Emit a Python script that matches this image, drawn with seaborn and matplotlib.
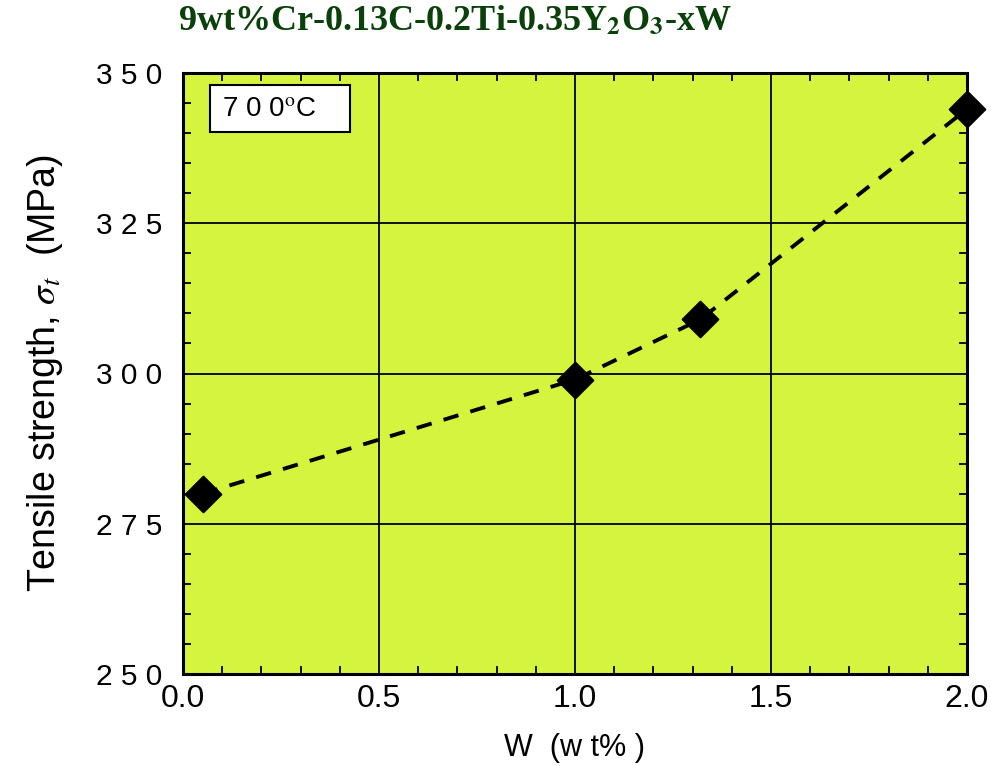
import matplotlib
matplotlib.use("Agg")
import matplotlib.pyplot as plt
import matplotlib.patches as mpatches
import seaborn as sns
import pandas as pd
from matplotlib.ticker import MultipleLocator

# data
w_content = [0.05, 1.0, 1.32, 2.0]
tensile = [280, 299, 309, 344]
x_ticks = [0.0, 0.5, 1.0, 1.5, 2.0]
x_tick_labels = ["0.0", "0.5", "1.0", "1.5", "2.0"]
y_ticks = [250, 275, 300, 325, 350]
y_tick_labels = ["2 5 0", "2 7 5", "3 0 0", "3 2 5", "3 5 0"]
title = r"9wt%Cr-0.13C-0.2Ti-0.35Y$_\mathbf{2}$O$_\mathbf{3}$-xW"
temp_label = "7 0 0$^{\\mathrm{o}}$C"

df = pd.DataFrame({"W": w_content, "TS": tensile})

sns.set_style("ticks")
plt.rcParams["font.family"] = ["Liberation Sans", "DejaVu Sans"]
plt.rcParams["mathtext.fontset"] = "stix"
plt.rcParams["text.color"] = "black"
plt.rcParams["axes.labelcolor"] = "black"
plt.rcParams["xtick.color"] = "black"
plt.rcParams["ytick.color"] = "black"

fig = plt.figure(figsize=(9.91, 7.66), dpi=100)
ax = fig.add_axes([183 / 991, 1 - 674 / 766, (967 - 183) / 991, (674 - 73) / 766])
bg = "#d4f43e"
ax.set_facecolor(bg)

sns.lineplot(data=df, x="W", y="TS", ax=ax, color="black", linewidth=2.8,
             linestyle=(0, (4, 3.2)), zorder=3)
sns.scatterplot(data=df, x="W", y="TS", ax=ax, marker="D", s=330, color="black",
                edgecolor="black", zorder=4, clip_on=False)

ax.set_xlim(0, 2.0)
ax.set_ylim(250, 350)
ax.set_xticks(x_ticks)
ax.set_xticklabels(x_tick_labels)
ax.set_yticks(y_ticks)
ax.set_yticklabels(y_tick_labels)
ax.xaxis.set_minor_locator(MultipleLocator(0.1))
ax.yaxis.set_minor_locator(MultipleLocator(5))
ax.grid(True, which="major", color="black", linewidth=1.3, zorder=1)
ax.set_axisbelow(True)
for s in ax.spines.values():
    s.set_linewidth(2.2)
    s.set_color("black")
    s.set_visible(True)
ax.tick_params(which="both", direction="in", top=True, right=True, color="black")
ax.tick_params(which="major", length=0, width=1.3, labelsize=21.5, labelcolor="black")
ax.tick_params(axis="x", which="major", labelsize=23)
ax.tick_params(axis="y", which="major", pad=15)
ax.tick_params(axis="x", which="major", pad=7)
ax.tick_params(which="minor", length=6, width=1.3)

ax.set_xlabel("W  (w t% )", fontsize=22, labelpad=14, color="black")
ax.set_ylabel("Tensile strength, $\\sigma_{\\mathit{t}}$  (MPa)", fontsize=27, labelpad=22,
              color="black")

fig.text(178 / 991, 1 - 22 / 766, title, fontsize=26, fontweight="bold",
         family="Liberation Serif", color="#0a400a", va="center", ha="left")

rect = mpatches.Rectangle((27 / 784, 1 - 59 / 601), 140 / 784, 47 / 601, transform=ax.transAxes,
                          facecolor="white", edgecolor="black", linewidth=1.5, zorder=5)
ax.add_patch(rect)
ax.text(39 / 784, 1 - 36 / 601, temp_label, transform=ax.transAxes, fontsize=20,
        va="center", ha="left", zorder=6, color="black")

fig.savefig("out.png", dpi=100)
